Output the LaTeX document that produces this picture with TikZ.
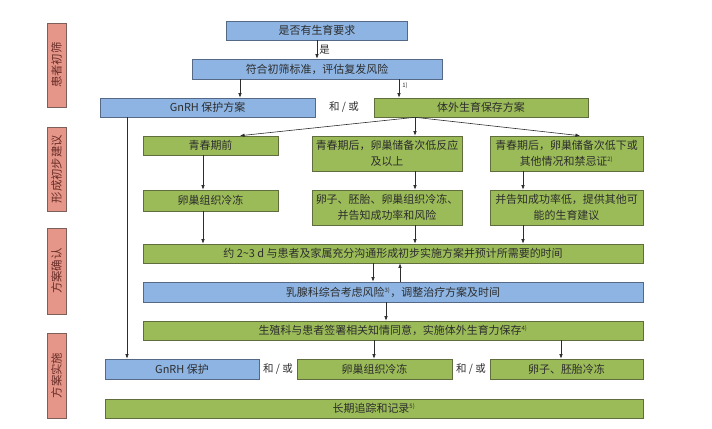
\documentclass[tikz,border=0pt]{standalone}
\usepackage{fontspec}
\setmainfont{Noto Sans CJK SC}
\usetikzlibrary{arrows.meta,positioning,calc}
\definecolor{boxblue}{RGB}{141,180,226}
\definecolor{boxgreen}{RGB}{155,187,89}
\definecolor{sidepink}{RGB}{229,150,137}
\definecolor{edgeblue}{RGB}{85,105,135}
\definecolor{edgegreen}{RGB}{95,110,60}
\definecolor{edgepink}{RGB}{125,95,90}
\definecolor{inkgray}{RGB}{45,45,45}
\definecolor{inkred}{RGB}{105,45,40}
\newcommand{\supnote}[1]{\textsuperscript{\fontsize{6}{7}\selectfont #1}}

\begin{document}
\begin{tikzpicture}[x=1bp,y=-1bp,
  bluebox/.style={draw=edgeblue,fill=boxblue,line width=0.6pt,minimum height=19bp,
    inner sep=1bp,align=center,text=inkgray,font=\fontsize{11}{16}\selectfont},
  greenbox/.style={bluebox,draw=edgegreen,fill=boxgreen},
  twoline/.style={minimum width=#1,minimum height=35bp},
  sidebox/.style={draw=edgepink,fill=sidepink,line width=0.6pt,rotate=90,
    minimum height=19bp,inner sep=1bp,text=inkred,font=\fontsize{11.5}{14}\selectfont},
  arr/.style={-{Latex[length=4.5bp,width=3.5bp]},draw=inkgray,line width=0.6pt},
  andor/.style={text=inkgray,font=\fontsize{10.5}{12}\selectfont}
]
\useasboundingbox (0,0) rectangle (712,428);

% side labels
\node[sidebox,minimum width=84bp] (s1) at (56.5,65) {患者初筛};
\node[sidebox,minimum width=84bp] (s2) at (56.5,169) {形成初步建议};
\node[sidebox,minimum width=86bp] (s3) at (56.5,271) {方案确认};
\node[sidebox,minimum width=85bp] (s4) at (56.5,375.5) {方案实施};

% screening
\node[bluebox,minimum width=181bp] (ask) at (317,30.5) {是否有生育要求};
\node[bluebox,minimum width=250bp,minimum height=20bp] (screen) at (317,69) {符合初筛标准，评估复发风险};
\node[bluebox,minimum width=215bp] (gnrh) at (207.5,107.5) {GnRH 保护方案};
\node[greenbox,minimum width=214bp] (ivf) at (481,107.5) {体外生育保存方案};
\node[andor] (ao1) at (344,107.5) {和 / 或};

% first advice
\node[greenbox,minimum width=135bp] (pre) at (210.5,145.5) {青春期前};
\node[greenbox,twoline=150bp] (post) at (387,153.5) {青春期后，卵巢储备次低反应\\及以上};
\node[greenbox,twoline=153bp] (low) at (566.5,153.5) {青春期后，卵巢储备次低下或\\其他情况和禁忌证\supnote{2)}};
\node[greenbox,minimum width=135bp,minimum height=21bp] (ovary) at (210.5,200.5) {卵巢组织冷冻};
\node[greenbox,twoline=150bp] (egg) at (387,207.5) {卵子、胚胎、卵巢组织冷冻、\\并告知成功率和风险};
\node[greenbox,twoline=153bp] (advice) at (566.5,207.5) {并告知成功率低，提供其他可\\能的生育建议};

% confirmation
\node[greenbox,minimum width=500bp] (talk) at (393,253.5) {约 2\textasciitilde 3 d 与患者及家属充分沟通形成初步实施方案并预计所需要的时间};
\node[bluebox,minimum width=500bp,minimum height=20bp] (breast) at (393,292) {乳腺科综合考虑风险\supnote{3)}，调整治疗方案及时间};
\node[greenbox,minimum width=500bp] (consent) at (393,330.5) {生殖科与患者签署相关知情同意，实施体外生育力保存\supnote{4)}};

% implementation
\node[bluebox,minimum width=154bp,minimum height=20bp] (gnrhB) at (182,369) {GnRH 保护};
\node[greenbox,minimum width=155bp,minimum height=20bp] (ovaryB) at (374.5,369) {卵巢组织冷冻};
\node[greenbox,minimum width=153bp,minimum height=20bp] (eggB) at (566.5,369) {卵子、胚胎冷冻};
\node[andor] (ao2) at (278,369) {和 / 或};
\node[andor] (ao3) at (471,369) {和 / 或};
\node[greenbox,minimum width=538bp] (track) at (374,408.5) {长期追踪和记录\supnote{5)}};

% columns for the connectors
\coordinate (xg) at (127,0);
\coordinate (xs) at (240,0);
\coordinate (xi) at (399,0);
\coordinate (xb) at (415,0);
\coordinate (xp) at (203,0);
\coordinate (xl) at (523,0);
\coordinate (xr) at (580,0);
\coordinate (xd) at (373,0);
\coordinate (xu) at (400,0);
\coordinate (xc) at (386,0);
\coordinate (xo) at (374,0);
\coordinate (xe) at (561,0);
\coordinate (br) at (ivf.south -| xb);

\draw[arr] (ask) -- node[right,andor,inner sep=2bp] {是} (screen);
\draw[arr] (screen.south -| xs) -- (gnrh.north -| xs);
\draw[arr] (screen.south -| xi) -- node[right,inner sep=3bp,text=inkgray,font=\fontsize{6}{7}\selectfont,yshift=3bp] {1)} (ivf.north -| xi);
\draw[arr] (gnrh.south -| xg) -- (gnrhB.north -| xg);
\draw[arr] (br) -- (pre.north -| xs);
\draw[arr] (br) -- (post.north -| xb);
\draw[arr] (br) -- (low.north -| xr);
\draw[arr] (pre.south -| xp) -- (ovary.north -| xp);
\draw[arr] (post.south -| xb) -- (egg.north -| xb);
\draw[arr] (low.south -| xl) -- (advice.north -| xl);
\draw[arr] (ovary.south -| xp) -- (talk.north -| xp);
\draw[arr] (egg.south -| xb) -- (talk.north -| xb);
\draw[arr] (advice.south -| xl) -- (talk.north -| xl);
\draw[arr] (talk.south -| xd) -- (breast.north -| xd);
\draw[arr] (breast.north -| xu) -- (talk.south -| xu);
\draw[arr] (breast.south -| xc) -- (consent.north -| xc);
\draw[arr] (consent.south -| xo) -- (ovaryB.north -| xo);
\draw[arr] (consent.south -| xe) -- (eggB.north -| xe);
\end{tikzpicture}
\end{document}
